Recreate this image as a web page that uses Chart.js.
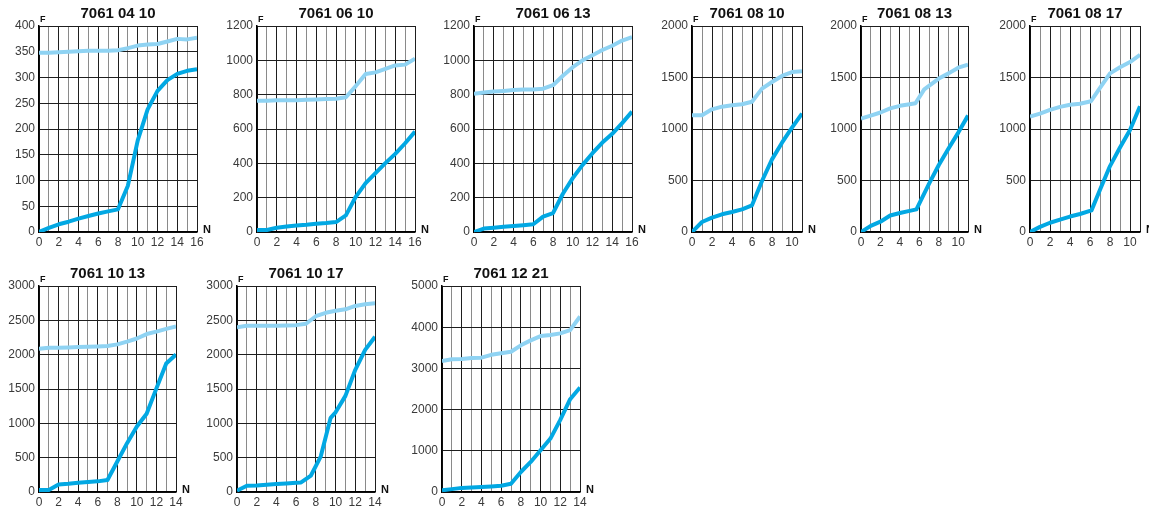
<!DOCTYPE html>
<html>
<head>
<meta charset="utf-8">
<script src="https://cdn.jsdelivr.net/npm/chart.js@4"></script>
<style>
    html, body { margin: 0; padding: 0; background: #fff; overflow: hidden; }
    body { width: 1149px; height: 508px; position: relative; }
    canvas { position: absolute; }
</style>
</head>
<body>
<script>
// panel titles
const titles = ['7061 04 10', '7061 06 10', '7061 06 13', '7061 08 10', '7061 08 13', '7061 08 17',
                '7061 10 13', '7061 10 17', '7061 12 21'];

// y axis ranges (max, step) per panel
const yMax  = [400, 1200, 1200, 2000, 2000, 2000, 3000, 3000, 5000];
const yStep = [50, 200, 200, 500, 500, 500, 500, 500, 1000];
// x axis max per panel (N)
const xMax  = [16, 16, 16, 11, 11, 11, 14, 14, 14];

const n16 = [0, 1, 2, 3, 4, 5, 6, 7, 8, 9, 10, 11, 12, 13, 14, 15, 16];
const n14 = [0, 1, 2, 3, 4, 5, 6, 7, 8, 9, 10, 11, 12, 13, 14];
const n11 = [0, 1, 2, 3, 4, 5, 6, 7, 8, 9, 10, 11];

// 7061 04 10
const p0410Low  = [0, 8, 15, 20, 26, 31, 36, 40, 44, 90, 178, 238, 274, 295, 307, 313, 316];
const p0410High = [348, 348, 349, 350, 351, 352, 352, 352, 353, 357, 362, 364, 365, 370, 375, 374, 377];
// 7061 06 10
const p0610Low  = [12, 12, 25, 32, 38, 42, 48, 52, 58, 97, 205, 285, 343, 401, 455, 517, 585];
const p0610High = [765, 765, 767, 767, 767, 770, 772, 775, 776, 785, 850, 920, 930, 950, 970, 975, 1010];
// 7061 06 13
const p0613Low  = [0, 20, 25, 30, 35, 40, 45, 90, 110, 223, 314, 391, 459, 521, 572, 634, 701];
const p0613High = [805, 812, 818, 822, 827, 830, 830, 835, 855, 910, 960, 1000, 1030, 1060, 1085, 1115, 1135];
// 7061 08 10
const p0810Low  = [0, 97, 139, 172, 194, 220, 259, 495, 705, 867, 1013, 1150];
const p0810High = [1133, 1133, 1191, 1217, 1230, 1240, 1265, 1392, 1456, 1515, 1553, 1560];
// 7061 08 13
const p0813LowX  = [0, 1, 2, 3, 4, 5, 5.7, 7, 8, 9, 10, 11];
const p0813LowY  = [0, 60, 100, 160, 185, 205, 220, 470, 650, 810, 965, 1130];
const p0813HighX = [0, 1, 2, 3, 4, 5, 5.6, 6.5, 8, 9, 10, 11];
const p0813HighY = [1100, 1130, 1160, 1200, 1225, 1240, 1250, 1385, 1490, 1540, 1595, 1625];
// 7061 08 17
const p0817LowX  = [0, 1, 2, 3, 4, 5, 6.15, 7, 8, 9, 10, 11];
const p0817LowY  = [0, 50, 90, 120, 150, 175, 210, 410, 640, 820, 990, 1220];
const p0817HighX = [0, 1, 2, 3, 4, 5, 6.1, 7, 8, 9, 10, 11];
const p0817HighY = [1120, 1150, 1185, 1215, 1235, 1245, 1270, 1400, 1540, 1600, 1650, 1720];
// 7061 10 13
const p1013Low  = [30, 30, 110, 120, 135, 145, 155, 175, 445, 711, 953, 1140, 1509, 1872, 2003];
const p1013High = [2085, 2100, 2100, 2105, 2110, 2115, 2120, 2125, 2150, 2190, 2235, 2300, 2335, 2375, 2410];
// 7061 10 17
const p1017LowX = [0, 1, 2, 3, 4, 5, 6, 6.5, 7.5, 8.5, 9.5, 10, 11, 12, 13, 14];
const p1017LowY = [20, 90, 95, 105, 115, 125, 135, 140, 240, 520, 1080, 1160, 1400, 1780, 2070, 2260];
const p1017High = [2400, 2420, 2420, 2420, 2420, 2425, 2430, 2450, 2560, 2610, 2640, 2660, 2710, 2735, 2750];
// 7061 12 21
const p1221Low  = [40, 70, 100, 110, 120, 135, 150, 200, 486, 729, 1013, 1297, 1750, 2253, 2536];
const p1221High = [3176, 3220, 3230, 3250, 3260, 3330, 3370, 3403, 3560, 3680, 3784, 3810, 3850, 3930, 4260];

// plot area boxes on the page: [left, right, top, bottom]
const boxes = [
    [39, 197, 26, 232], [257, 415, 26, 232], [474, 632, 26, 232],
    [692, 802, 26, 232], [861, 968, 26, 232], [1030, 1140, 26, 232],
    [39, 176, 286, 492], [237, 375, 286, 492], [442, 580, 286, 492]
];

const zip = (xs, ys) => xs.map((x, i) => ({ x: x, y: ys[i] }));

const series = [
    [zip(n16, p0410High), zip(n16, p0410Low)],
    [zip(n16, p0610High), zip(n16, p0610Low)],
    [zip(n16, p0613High), zip(n16, p0613Low)],
    [zip(n11, p0810High), zip(n11, p0810Low)],
    [zip(p0813HighX, p0813HighY), zip(p0813LowX, p0813LowY)],
    [zip(p0817HighX, p0817HighY), zip(p0817LowX, p0817LowY)],
    [zip(n14, p1013High), zip(n14, p1013Low)],
    [zip(n14, p1017High), zip(p1017LowX, p1017LowY)],
    [zip(n14, p1221High), zip(n14, p1221Low)]
];

const colors = {
    low: '#02a8e3',
    high: '#8fd3f3',
    grid: '#1e1e1e',
    gridLight: '#8a8a8a',
    text: '#3a3a3a'
};

const FONT = '"Liberation Sans", Arial, Helvetica, sans-serif';
Chart.defaults.font.family = FONT;
Chart.defaults.color = colors.text;

// title, F and N drawn relative to the plot area
const panelText = {
    id: 'panelText',
    afterDraw(chart, args, opts) {
        const ctx = chart.ctx;
        const a = chart.chartArea;
        ctx.save();
        ctx.fillStyle = '#111';
        ctx.font = 'bold 15px ' + FONT;
        ctx.textAlign = 'center';
        ctx.textBaseline = 'middle';
        ctx.fillText(opts.title, (a.left + a.right) / 2, a.top - 12);
        ctx.font = 'bold 9px ' + FONT;
        ctx.textAlign = 'left';
        ctx.textBaseline = 'alphabetic';
        ctx.fillText('F', a.left + 1, a.top - 4);
        ctx.font = 'bold 11px ' + FONT;
        ctx.textBaseline = 'middle';
        ctx.fillText('N', a.right + 6, a.bottom - 2);
        ctx.restore();
    }
};

const PAD_L = 44, PAD_T = 26, PAD_R = 18, PAD_B = 18;

boxes.forEach((b, i) => {
    const [L, R, T, B] = b;
    const canvas = document.createElement('canvas');
    canvas.width = (R - L) + PAD_L + PAD_R;
    canvas.height = (B - T) + PAD_T + PAD_B;
    canvas.style.left = (L - PAD_L) + 'px';
    canvas.style.top = (T - PAD_T) + 'px';
    document.body.appendChild(canvas);

    const max = xMax[i];

    new Chart(canvas.getContext('2d'), {
        type: 'line',
        data: {
            datasets: [
                { data: series[i][0], borderColor: colors.high },
                { data: series[i][1], borderColor: colors.low }
            ]
        },
        options: {
            responsive: false,
            animation: false,
            devicePixelRatio: 1,
            layout: { padding: { left: 0, top: PAD_T, right: PAD_R, bottom: 0 } },
            elements: {
                line: { borderWidth: 4, tension: 0, borderJoinStyle: 'round', borderCapStyle: 'butt' },
                point: { radius: 0 }
            },
            plugins: {
                legend: { display: false },
                tooltip: { enabled: false },
                panelText: { title: titles[i] }
            },
            scales: {
                x: {
                    type: 'linear',
                    min: 0,
                    max: max,
                    afterFit: (s) => { s.height = PAD_B; },
                    border: { color: '#000', width: 1.5 },
                    grid: {
                        drawTicks: false,
                        lineWidth: 1,
                        color: (c) => (c.tick && (c.tick.value % 2 === 0 || c.tick.value === max))
                            ? colors.grid : colors.gridLight
                    },
                    ticks: {
                        stepSize: 1,
                        autoSkip: false,
                        maxRotation: 0,
                        padding: 3,
                        font: { size: 12 },
                        callback: (v) => (v % 2 === 0 ? String(v) : '')
                    }
                },
                y: {
                    min: 0,
                    max: yMax[i],
                    afterFit: (s) => { s.width = PAD_L; },
                    border: { color: '#000', width: 1.5 },
                    grid: { drawTicks: false, color: colors.grid, lineWidth: 1 },
                    ticks: {
                        stepSize: yStep[i],
                        autoSkip: false,
                        padding: 4,
                        font: { size: 12 },
                        callback: (v) => String(v)
                    }
                }
            }
        },
        plugins: [panelText]
    });
});
</script>
</body>
</html>
